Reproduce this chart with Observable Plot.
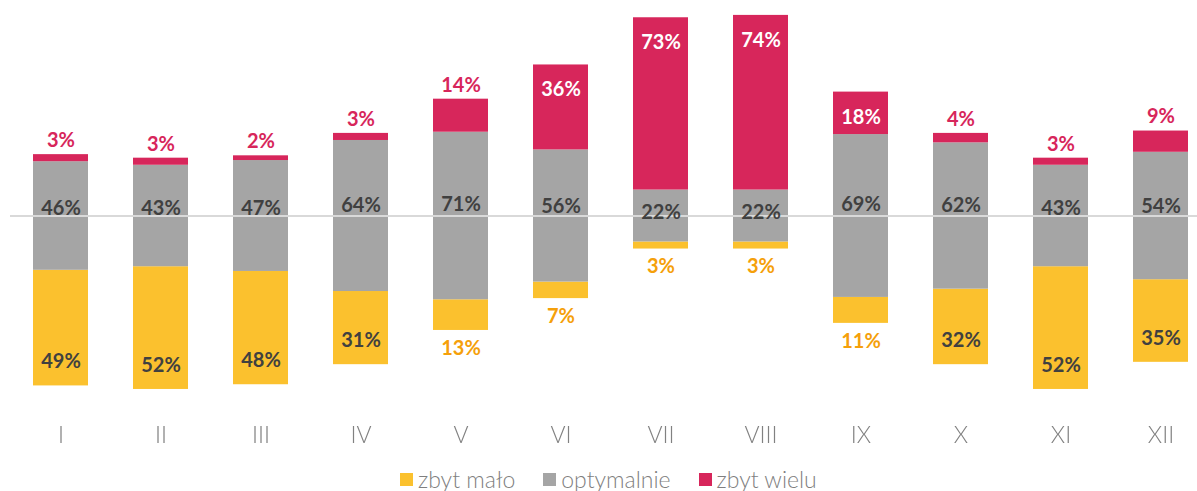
<!DOCTYPE html>
<html>
<head>
<meta charset="utf-8">
<script src="https://cdn.jsdelivr.net/npm/d3@7"></script>
<script src="https://cdn.jsdelivr.net/npm/@observablehq/plot@0.6"></script>
<style>
  html, body { margin: 0; padding: 0; background: #fff; }
  #chart { width: 1197px; }
  .legend { display: flex; align-items: center; height: 38px; padding-left: 400px; font-family: Lato, sans-serif; font-weight: 300; font-size: 23px; color: #7f7f7f; }
  .legend .item { display: flex; align-items: center; margin-right: 28px; }
  .legend .sw { width: 13px; height: 13px; margin-right: 5px; }
  .ticklabels { will-change: transform; }
</style>
</head>
<body>
<div id="chart"></div>
<script>
const months = ["I","II","III","IV","V","VI","VII","VIII","IX","X","XI","XII"];
const zbytMalo   = [49, 52, 48, 31, 13, 7, 3, 3, 11, 32, 52, 35];
const optymalnie = [46, 43, 47, 64, 71, 56, 22, 22, 69, 62, 43, 54];
const zbytWielu  = [3, 3, 2, 3, 14, 36, 73, 74, 18, 4, 3, 9];
const seriesNames = ["zbyt mało", "optymalnie", "zbyt wielu"];
const colors = ["#FBC12E", "#A5A5A5", "#D7265B"];

const LABEL_DARK = "#404040";
const LABEL_ORANGE = "#F5A00A";
const AXIS_GRAY = "#808080";

const rows = months.map((m, i) => {
  const h = optymalnie[i] / 2;
  return {
    m,
    low: zbytMalo[i], opt: optymalnie[i], high: zbytWielu[i],
    yLow1: -h - zbytMalo[i], yLow2: -h,
    yOpt1: -h, yOpt2: h,
    yHigh1: h, yHigh2: h + zbytWielu[i]
  };
});

const baseY = 215.5, k = 2.36;
const pct = d => d + "%";

const plot = Plot.plot({
  width: 1197,
  height: 460,
  marginLeft: 10,
  marginRight: 0,
  marginTop: 0,
  marginBottom: 42,
  style: { fontFamily: "Lato, sans-serif", background: "transparent" },
  x: { domain: months, range: [10, 1210], paddingInner: 0.45, paddingOuter: 0.225, axis: null },
  y: { domain: [-100, 100], range: [baseY + 100 * k, baseY - 100 * k], axis: null },
  marks: [
    Plot.barY(rows, { x: "m", y1: "yLow1", y2: "yLow2", fill: colors[0] }),
    Plot.barY(rows, { x: "m", y1: "yOpt1", y2: "yOpt2", fill: colors[1] }),
    Plot.barY(rows, { x: "m", y1: "yHigh1", y2: "yHigh2", fill: colors[2] }),
    Plot.ruleY([0], { stroke: "#D9D9D9", strokeWidth: 2 }),
    // gray labels
    Plot.text(rows, { x: "m", y: d => d.opt * 0.07, text: d => pct(d.opt), fill: LABEL_DARK, fontSize: 20, fontWeight: 700 }),
    // red labels inside
    Plot.text(rows.filter(d => d.high >= 18), { x: "m", y: "yHigh2", dy: 25, text: d => pct(d.high), fill: "#fff", fontSize: 20, fontWeight: 700 }),
    // red labels above
    Plot.text(rows.filter(d => d.high < 18), { x: "m", y: "yHigh2", dy: -14, text: d => pct(d.high), fill: colors[2], fontSize: 20, fontWeight: 700 }),
    // yellow labels inside
    Plot.text(rows.filter(d => d.low >= 30), { x: "m", y: "yLow1", dy: -24, text: d => pct(d.low), fill: LABEL_DARK, fontSize: 20, fontWeight: 700 }),
    // yellow labels below
    Plot.text(rows.filter(d => d.low < 30), { x: "m", y: "yLow1", dy: 18, text: d => pct(d.low), fill: LABEL_ORANGE, fontSize: 20, fontWeight: 700 }),
    // x tick labels
    Plot.text(months, { x: d => d, text: d => d, frameAnchor: "bottom", lineAnchor: "top", dy: 8, fontSize: 23, fontWeight: 300, fill: AXIS_GRAY, fillOpacity: 0.99, className: "ticklabels" })
  ]
});
document.getElementById("chart").appendChild(plot);

const legend = document.createElement("div");
legend.className = "legend";
seriesNames.forEach((name, i) => {
  const item = document.createElement("div");
  item.className = "item";
  const sw = document.createElement("span");
  sw.className = "sw";
  sw.style.background = colors[i];
  const t = document.createElement("span");
  t.textContent = name;
  item.appendChild(sw);
  item.appendChild(t);
  legend.appendChild(item);
});
document.getElementById("chart").appendChild(legend);
</script>
</body>
</html>
